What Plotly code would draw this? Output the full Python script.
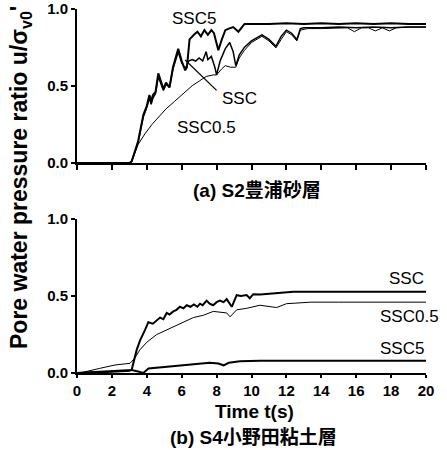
import plotly.graph_objects as go

# ---------------- data: (a) S2 豊浦砂層 ----------------
a_ssc5_t = [0, 3.0, 3.13, 3.5, 3.8, 4.0, 4.15, 4.25, 4.35, 4.5, 4.66, 4.8, 4.95, 5.1, 5.3, 5.5, 5.8,
            6.0, 6.2, 6.3, 6.45, 6.7, 6.9, 7.1, 7.3, 7.5, 7.7, 7.85, 8.1, 8.3, 8.5, 8.7, 8.95, 9.25,
            9.6, 10, 11, 12, 13, 14, 15, 16, 17, 18, 19, 20]
a_ssc5_u = [0, 0, 0.01, 0.14, 0.31, 0.37, 0.44, 0.40, 0.44, 0.46, 0.58, 0.53, 0.48, 0.52, 0.49, 0.62, 0.74,
            0.66, 0.60, 0.62, 0.80, 0.83, 0.85, 0.82, 0.86, 0.83, 0.86, 0.84, 0.73, 0.80, 0.86, 0.87, 0.88, 0.85,
            0.90, 0.90, 0.90, 0.905, 0.90, 0.905, 0.90, 0.905, 0.90, 0.905, 0.90, 0.90]

a_ssc_t = [0, 3.0, 3.13, 3.5, 3.8, 4.0, 4.15, 4.25, 4.35, 4.5, 4.66, 4.8, 4.95, 5.1, 5.3, 5.5, 5.8,
           6.0, 6.2, 6.4, 6.6, 6.8, 7.0, 7.2, 7.4, 7.5, 7.7, 7.9, 8.0, 8.2, 8.5, 8.75, 8.95, 9.1, 9.3,
           9.6, 10.0, 10.6, 11.0, 11.4, 11.7, 12.0, 12.3, 12.6, 12.8, 13.0, 14, 15, 16, 17, 18, 19, 20]
a_ssc_u = [0, 0, 0.01, 0.13, 0.30, 0.36, 0.42, 0.38, 0.42, 0.45, 0.56, 0.52, 0.47, 0.51, 0.49, 0.61, 0.72,
           0.65, 0.61, 0.66, 0.67, 0.66, 0.68, 0.66, 0.72, 0.67, 0.69, 0.62, 0.57, 0.66, 0.74, 0.78, 0.72, 0.63, 0.70,
           0.75, 0.79, 0.83, 0.80, 0.755, 0.82, 0.86, 0.84, 0.80, 0.87, 0.875, 0.875, 0.88, 0.875, 0.88, 0.875, 0.88, 0.88]

a_ssc05_t = [0, 3.1, 3.5, 3.9, 4.3, 4.7, 5.1, 5.6, 6.1, 6.6, 7.0, 7.4, 7.8, 8.0, 8.3, 8.5, 8.8, 9.1, 9.3,
             9.6, 10.0, 10.6, 11.0, 11.4, 11.7, 12.0, 12.3, 12.6, 12.8, 13.2, 14, 15, 15.5, 15.9, 16.3,
             16.7, 17.1, 17.5, 17.9, 18.3, 19, 20]
a_ssc05_u = [0, 0, 0.12, 0.19, 0.25, 0.30, 0.35, 0.40, 0.45, 0.50, 0.53, 0.56, 0.57, 0.57, 0.61, 0.63, 0.62, 0.62, 0.68,
             0.73, 0.78, 0.82, 0.79, 0.745, 0.80, 0.85, 0.83, 0.79, 0.86, 0.87, 0.87, 0.875, 0.875, 0.85, 0.875,
             0.875, 0.855, 0.875, 0.855, 0.875, 0.88, 0.88]

# ---------------- data: (b) S4 小野田粘土層 ----------------
b_ssc_t = [0, 1, 2, 2.6, 3.0, 3.13, 3.42, 3.61, 3.9, 4.09, 4.35, 4.55, 4.76, 4.95, 5.14, 5.3, 5.52, 5.7, 5.9,
           6.1, 6.29, 6.5, 6.7, 6.9, 7.05, 7.2, 7.43, 7.6, 7.8, 8.0, 8.19, 8.4, 8.58, 8.87, 9.15, 9.4, 9.72,
           9.9, 10.1, 10.5, 11.0, 11.44, 12.0, 12.4, 13, 14, 15, 16, 17, 18, 19, 20]
b_ssc_u = [0, 0.005, 0.01, 0.017, 0.015, 0.02, 0.15, 0.21, 0.28, 0.33, 0.32, 0.34, 0.36, 0.35, 0.39, 0.38, 0.40, 0.41, 0.43,
           0.42, 0.44, 0.43, 0.445, 0.43, 0.45, 0.44, 0.47, 0.45, 0.44, 0.46, 0.47, 0.46, 0.48, 0.43, 0.505, 0.50, 0.506,
           0.485, 0.512, 0.51, 0.515, 0.52, 0.525, 0.528, 0.528, 0.528, 0.528, 0.528, 0.528, 0.528, 0.528, 0.528]

b_ssc05_t = [0, 0.17, 1.3, 2.18, 3.04, 3.3, 3.6, 4.0, 4.57, 5.14, 5.71, 6.29, 6.67, 7.24, 7.81, 8.58, 8.77,
             9.15, 9.72, 10.49, 11.0, 11.44, 12.0, 13.4, 15, 17, 20]
b_ssc05_u = [0, 0.0, 0.03, 0.052, 0.063, 0.095, 0.15, 0.20, 0.25, 0.28, 0.31, 0.34, 0.36, 0.375, 0.40, 0.39, 0.365,
             0.41, 0.42, 0.44, 0.43, 0.425, 0.45, 0.46, 0.46, 0.46, 0.46]

b_ssc5_t = [0, 1, 2, 3.0, 3.13, 3.5, 3.8, 4.1, 4.76, 5.7, 6.66, 7.6, 8.1, 8.4, 8.7, 9.34, 10.5, 12, 14, 16, 18, 20]
b_ssc5_u = [0, 0.003, 0.008, 0.015, 0.02, 0.01, 0.0, 0.03, 0.037, 0.05, 0.06, 0.066, 0.062, 0.05, 0.066, 0.077, 0.08,
            0.08, 0.08, 0.08, 0.08, 0.08]

x_ticks = [0, 2, 4, 6, 8, 10, 12, 14, 16, 18, 20]
y_ticks = [0.0, 0.5, 1.0]

FONT = "Liberation Sans, Arial, Noto Sans CJK JP"
W, H = 447, 450

fig = go.Figure()

def add(t, u, width, xa, ya):
    fig.add_trace(go.Scatter(x=t, y=u, mode="lines", line=dict(color="black", width=width),
                             xaxis=xa, yaxis=ya, showlegend=False, hoverinfo="skip"))

add(a_ssc05_t, a_ssc05_u, 1.0, "x", "y")
add(a_ssc_t, a_ssc_u, 1.5, "x", "y")
add(a_ssc5_t, a_ssc5_u, 2.0, "x", "y")
add(b_ssc05_t, b_ssc05_u, 1.0, "x2", "y2")
add(b_ssc_t, b_ssc_u, 2.0, "x2", "y2")
add(b_ssc5_t, b_ssc5_u, 2.0, "x2", "y2")

xdom = [77 / W, 426 / W]
axis_common = dict(showgrid=False, zeroline=False, showline=True, linecolor="black", linewidth=2,
                   ticks="outside", tickcolor="black", tickwidth=1.5, mirror=False, automargin=False,
                   ticklabeloverflow="allow")

fig.update_layout(
    width=W, height=H, autosize=False,
    margin=dict(l=0, r=0, t=0, b=0, pad=0, autoexpand=False),
    paper_bgcolor="white", plot_bgcolor="white",
    font=dict(family=FONT, color="black"),
    xaxis=dict(domain=xdom, range=[0, 20], tickvals=x_ticks, showticklabels=False, ticklen=5,
               anchor="y", **axis_common),
    yaxis=dict(domain=[(H - 163) / H, (H - 8.5) / H], range=[0, 1], tickvals=y_ticks,
               tickformat=".1f", ticklen=4, anchor="x",
               tickfont=dict(size=15, family=FONT, weight="bold"), **axis_common),
    xaxis2=dict(domain=xdom, range=[0, 20], tickvals=x_ticks, ticklen=3, anchor="y2",
                tickfont=dict(size=15, family=FONT, weight="bold"), **axis_common),
    yaxis2=dict(domain=[(H - 373) / H, (H - 219) / H], range=[0, 1], tickvals=y_ticks,
                tickformat=".1f", ticklen=4, anchor="x2",
                tickfont=dict(size=15, family=FONT, weight="bold"), **axis_common),
)

lab = dict(size=17, family=FONT)
def P(x, y, xanchor="center"):
    return dict(x=x / W, y=(H - y) / H, xref="paper", yref="paper", showarrow=False,
                xanchor=xanchor, yanchor="middle")

ann = [
    dict(P(194, 18), text="SSC5", font=lab),
    dict(P(239, 99), text="SSC", font=lab),
    dict(P(206, 127), text="SSC0.5", font=lab),
    dict(P(426, 278, "right"), text="SSC", font=lab),
    dict(P(441, 316, "right"), text="SSC0.5", font=lab),
    dict(P(426, 348, "right"), text="SSC5", font=lab),
    dict(P(257, 190), text="(a) S2豊浦砂層", font=dict(size=19, family=FONT, weight="bold")),
    dict(P(253, 437), text="(b) S4小野田粘土層", font=dict(size=19, family=FONT, weight="bold")),
    dict(P(255, 411), text="Time t(s)", font=dict(size=19, family=FONT, weight="bold")),
    dict(P(20, 178), textangle=-90, text="Pore water pressure ratio u/σ<sub>v0</sub>'",
         font=dict(size=23, family=FONT, weight="bold")),
]
fig.update_layout(annotations=ann)

# pointer line from the SSC label to its curve
fig.add_shape(type="line", xref="x", yref="y", x0=6.2, y0=0.667, x1=8.0, y1=0.47,
              line=dict(color="black", width=1.2))

fig.write_html(
    "out.html",
    config={"displayModeBar": False},
    post_script="document.body.style.margin='0';document.body.style.padding='0';"
                "document.body.style.overflow='hidden';",
)
